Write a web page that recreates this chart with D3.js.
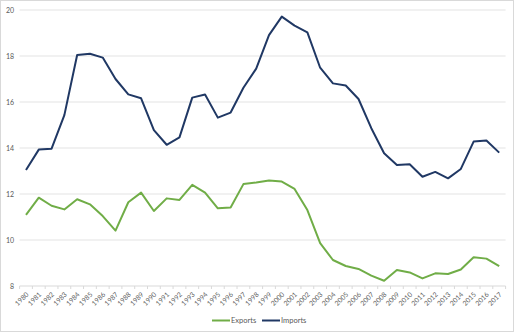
<!DOCTYPE html>
<html><head><meta charset="utf-8">
<script src="https://cdn.jsdelivr.net/npm/d3@7"></script>
<style>body{margin:0;background:#fff;}svg{display:block;}</style>
</head><body>
<svg id="c" width="515" height="333"></svg>
<script>
const years = d3.range(1980, 2018).map(String);
const exportsVals = [11.09,11.84,11.49,11.33,11.77,11.55,11.04,10.41,11.64,12.06,11.26,11.81,11.74,12.40,12.06,11.38,11.41,12.43,12.50,12.59,12.54,12.22,11.30,9.86,9.13,8.87,8.74,8.45,8.23,8.70,8.59,8.33,8.55,8.52,8.72,9.25,9.19,8.86];
const importsVals = [13.04,13.93,13.97,15.43,18.04,18.10,17.93,17.00,16.33,16.16,14.78,14.14,14.46,16.19,16.33,15.32,15.54,16.62,17.45,18.91,19.71,19.32,19.03,17.49,16.81,16.72,16.13,14.86,13.77,13.26,13.29,12.75,12.96,12.68,13.09,14.28,14.33,13.80];
const yTicks = [8,10,12,14,16,18,20];
const seriesNames = ["Exports","Imports"];
const colors = ["#70AD47","#203864"];

const svg = d3.select("#c");
const font = "Lato, 'DejaVu Sans', sans-serif";
svg.append("rect").attr("x",0.5).attr("y",0.5).attr("width",513).attr("height",331)
  .attr("fill","#fff").attr("stroke","#d9d9d9");

const x = d3.scaleBand().domain(years).range([19.6,505.6]);
const y = d3.scaleLinear().domain([8,20]).range([286,10]);

// gridlines
svg.append("g").selectAll("line").data(yTicks.slice(1)).join("line")
  .attr("x1",19.6).attr("x2",505.6).attr("y1",d=>y(d)).attr("y2",d=>y(d))
  .attr("stroke","#e3e3e3").attr("stroke-width",1);

// y labels
svg.append("g").selectAll("text").data(yTicks).join("text")
  .attr("x",14).attr("y",d=>y(d)+2.5).attr("text-anchor","end")
  .attr("font-family",font).attr("font-size",7).attr("fill","#595959").text(d=>d);

// x axis
const xg = svg.append("g").attr("transform","translate(0,"+y(8)+")");
xg.append("line").attr("x1",19.6).attr("x2",505.6).attr("stroke","#d9d9d9");
xg.selectAll("line.tk").data(d3.range(years.length+1)).join("line").attr("class","tk")
  .attr("x1",i=>19.6+i*x.step()).attr("x2",i=>19.6+i*x.step()).attr("y1",0).attr("y2",3)
  .attr("stroke","#d9d9d9");
const lblG = xg.selectAll("g.lbl").data(years).join("g").attr("class","lbl")
  .attr("transform",d=>`translate(${x(d)+x.bandwidth()/2+3},9)`);
lblG.append("text").attr("transform","rotate(-45)")
  .attr("text-anchor","end").attr("x",0).attr("y",0)
  .attr("font-family",font).attr("font-size",6.8).attr("fill","#595959").text(d=>d);

const line = d3.line().x((d,i)=>x(years[i])+x.bandwidth()/2).y(d=>y(d));
[exportsVals, importsVals].forEach((vals,k)=>{
  svg.append("path").datum(vals).attr("d",line).attr("fill","none")
    .attr("stroke",colors[k]).attr("stroke-width",2).attr("stroke-linejoin","round");
});

// legend
const lg = [{x:212},{x:262}];
seriesNames.forEach((n,k)=>{
  svg.append("line").attr("x1",lg[k].x).attr("x2",lg[k].x+18).attr("y1",320.5).attr("y2",320.5)
    .attr("stroke",colors[k]).attr("stroke-width",2);
  svg.append("text").attr("x",lg[k].x+19).attr("y",323).attr("font-family",font)
    .attr("font-size",7.5).attr("fill","#595959").text(n);
});
</script>
</body></html>
